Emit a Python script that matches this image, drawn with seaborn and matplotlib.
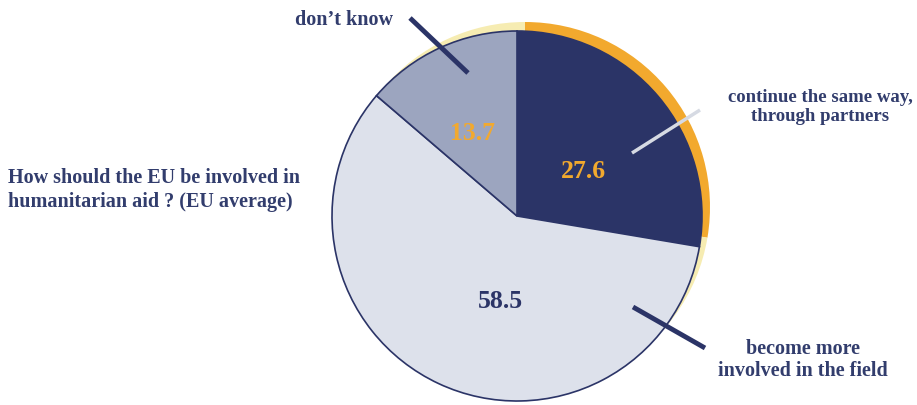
import matplotlib
matplotlib.use("Agg")
import matplotlib.pyplot as plt
import seaborn as sns

# Survey answers (EU average, %)
categories = ["continue the same way,\nthrough partners",
              "become more\ninvolved in the field",
              "don\u2019t know"]
values = [27.6, 58.5, 13.7]
title = "How should the EU be involved in\nhumanitarian aid ? (EU average)"

sns.set_theme(style="white")
plt.rcParams["font.family"] = ["Liberation Serif", "DejaVu Serif"]

NAVY = "#2b3467"
TEXT = "#323d6d"
ORANGE = "#f2a92e"
PALE = "#f6ecb2"
slice_colors = [NAVY, "#dde1eb", "#9ca5bf"]
rim_colors = [ORANGE, PALE, PALE]
value_colors = [ORANGE, NAVY, ORANGE]

W, H = 917, 405
fig = plt.figure(figsize=(W / 100, H / 100), dpi=100)
ax = fig.add_axes([0, 0, 1, 1])

cx, cy, r = 517, H - 216, 185

# raised side of the disc, seen behind the face
ax.pie(values, colors=rim_colors, startangle=90, counterclock=False,
       radius=r, center=(cx + 8, cy + 9),
       wedgeprops=dict(linewidth=0), frame=True)
# face of the disc
ax.pie(values, colors=slice_colors, startangle=90, counterclock=False,
       radius=r, center=(cx, cy),
       wedgeprops=dict(edgecolor=NAVY, linewidth=1.2), frame=True)
ax.set_xlim(0, W)
ax.set_ylim(0, H)
ax.set_aspect("equal")
ax.axis("off")

# value labels inside the slices
value_pos = [(583, 172), (500, 302), (473, 134)]
for v, (x, y), c in zip(values, value_pos, value_colors):
    ax.text(x, H - y, f"{v}", color=c, fontsize=18.5, fontweight="bold",
            ha="center", va="center")

# category labels with leader lines
label_pos = [(820, 107), (803, 360), (344, 20)]
label_sizes = [13.5, 14.5, 14.5]
for lab, (x, y), fs in zip(categories, label_pos, label_sizes):
    ax.text(x, H - y, lab, color=TEXT, fontsize=fs, fontweight="bold",
            ha="center", va="center", linespacing=1.2)

leaders = [((632, 153), (700, 110), "#d6dae3", 2.5),
           ((633, 307), (705, 348), NAVY, 3.5),
           ((410, 18), (468, 73), NAVY, 3.5)]
for (x0, y0), (x1, y1), c, lw in leaders:
    ax.plot([x0, x1], [H - y0, H - y1], color=c, lw=lw,
            solid_capstyle="butt")

ax.text(8, H - 190, title, color=TEXT, fontsize=14.5, fontweight="bold",
        ha="left", va="center", linespacing=1.25)

fig.savefig("out.png", dpi=100, facecolor="white")
